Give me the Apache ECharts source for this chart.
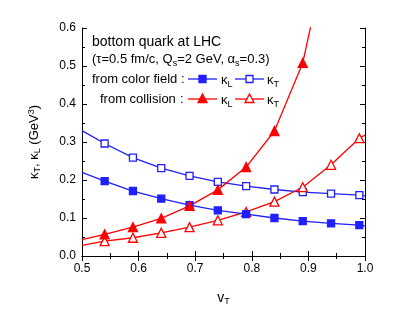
<!DOCTYPE html>
<html><head><meta charset="utf-8">
<script src="https://cdn.jsdelivr.net/npm/echarts@6/dist/echarts.min.js"></script>
<style>html,body{margin:0;padding:0;background:#fff}#c{width:415px;height:318px}</style>
</head><body><div id="c"></div>
<script>
const vT = [0.5, 0.54, 0.59, 0.64, 0.69, 0.74, 0.79, 0.84, 0.89, 0.94, 0.99, 1.0];
const fieldKT = [0.330, 0.296, 0.259, 0.231, 0.211, 0.195, 0.184, 0.175, 0.168, 0.164, 0.160, 0.158];
const fieldKL = [0.220, 0.197, 0.171, 0.151, 0.134, 0.120, 0.110, 0.100, 0.092, 0.086, 0.081, 0.079];
const collKL  = [0.043, 0.057, 0.076, 0.099, 0.132, 0.174, 0.234, 0.329, 0.508, 0.850, null, null];
const collKT  = [0.028, 0.039, 0.048, 0.061, 0.076, 0.094, 0.116, 0.143, 0.181, 0.240, 0.310, 0.318];
const xTicks = ['0.5','0.6','0.7','0.8','0.9','1.0'];
const yTicks = ['0.0','0.1','0.2','0.3','0.4','0.5','0.6'];

const BLUE = '#1f1fff', RED = '#ff0000';
const FONT = 'Liberation Sans, Arial, sans-serif';
function build(vals, markerIdx) {
  const out = [];
  for (let i = 0; i < vT.length; i++) {
    if (vals[i] == null) continue;
    const item = { value: [vT[i], vals[i]] };
    if (i === 0 || i === vT.length - 1 || !markerIdx(i)) item.symbol = 'none';
    out.push(item);
  }
  return out;
}
const isMarker = i => i >= 1 && i <= 10;
function series(name, vals, color, symbol, filled, size) {
  return {
    name, type: 'line', data: build(vals, isMarker), smooth: false,
    symbol, symbolSize: size, showAllSymbol: true, clip: true,
    lineStyle: { color, width: 1.3 },
    itemStyle: { color: filled ? color : '#fff', borderColor: color, borderWidth: 1.3 },
    z: filled ? 3 : 2
  };
}
const sub = { fontSize: 9, verticalAlign: 'bottom', padding: [6, 0, 0, 0], fontFamily: FONT, color: '#000' };
const axisCommon = {
  axisLine: { show: true, lineStyle: { color: '#000', width: 1 } },
  axisTick: { show: true, inside: true, length: 5, lineStyle: { color: '#000' } },
  minorTick: { show: true, splitNumber: 2, length: 3, lineStyle: { color: '#000' } },
  splitLine: { show: false }
};
const chart = echarts.init(document.getElementById('c'));
const option = {
  animation: false,
  backgroundColor: '#fff',
  grid: { left: 82, right: 50, top: 28, bottom: 62, containLabel: false },
  xAxis: [
    Object.assign({ type: 'value', min: 0.5, max: 1.0, interval: 0.1, position: 'bottom',
      axisLabel: { color: '#000', fontSize: 12, fontFamily: FONT, margin: 7,
        formatter: v => xTicks[Math.round((v - 0.5) * 10)] },
      name: 'v{s|T}', nameLocation: 'middle', nameGap: 35,
      nameTextStyle: { fontSize: 14, fontFamily: FONT, color: '#000', rich: { s: sub } } }, axisCommon),
    Object.assign({ type: 'value', min: 0.5, max: 1.0, interval: 0.1, position: 'top',
      axisLabel: { show: false } }, axisCommon)
  ],
  yAxis: [
    Object.assign({ type: 'value', min: 0, max: 0.6, interval: 0.1, position: 'left',
      axisLabel: { color: '#000', fontSize: 12, fontFamily: FONT, margin: 6,
        formatter: v => yTicks[Math.round(v * 10)] },
      name: 'κ{s|T}, κ{s|L} (GeV{p|3})', nameLocation: 'middle', nameGap: 40, nameRotate: 90,
      nameTextStyle: { fontSize: 13, fontFamily: FONT, color: '#000',
        rich: { s: sub, p: { fontSize: 9, verticalAlign: 'top', padding: [0, 0, 6, 0], fontFamily: FONT, color: '#000' } } } }, axisCommon),
    Object.assign({ type: 'value', min: 0, max: 0.6, interval: 0.1, position: 'right',
      axisLabel: { show: false } }, axisCommon)
  ],
  series: [
    series('fieldKT', fieldKT, BLUE, 'rect', false, 7),
    series('fieldKL', fieldKL, BLUE, 'rect', true, 7),
    series('collKT', collKT, RED, 'triangle', false, 9),
    series('collKL', collKL, RED, 'triangle', true, 9)
  ],
  graphic: (function () {
    const g = [];
    const txt = (x, y, text, size, rich) => g.push({ type: 'text', x, y, style: {
      text, fill: '#000', font: size + 'px ' + FONT, verticalAlign: 'middle', rich: rich || {} } });
    const richSub = { s: { fontSize: 9, fontFamily: FONT, fill: '#000', verticalAlign: 'bottom', padding: [9, 0, 0, 0] } };
    txt(92, 42, 'bottom quark at LHC', 14);
    txt(92, 59, '(τ=0.5 fm/c, Q{s|s}=2 GeV, α{s|s}=0.3)', 13, richSub);
    txt(92, 79, 'from color field', 13);
    txt(181, 79, ':', 13);
    txt(100, 99, 'from collision', 13);
    txt(180, 99, ':', 13);
    const sample = (x1, y, color, symbol, filled) => {
      g.push({ type: 'line', shape: { x1, y1: y, x2: x1 + 29, y2: y }, style: { stroke: color, lineWidth: 1.3 } });
      const cx = x1 + 14.5;
      if (symbol === 'rect') {
        g.push({ type: 'rect', shape: { x: cx - 3.5, y: y - 3.5, width: 7, height: 7 },
          style: { fill: filled ? color : '#fff', stroke: color, lineWidth: 1.3 } });
      } else {
        g.push({ type: 'polygon', shape: { points: [[cx, y - 5], [cx + 4.5, y + 3.5], [cx - 4.5, y + 3.5]] },
          style: { fill: filled ? color : '#fff', stroke: color, lineWidth: 1.3 } });
      }
    };
    sample(188, 79, BLUE, 'rect', true);  txt(221, 80, 'κ{s|L}', 13, richSub);
    sample(235, 79, BLUE, 'rect', false); txt(267, 80, 'κ{s|T}', 13, richSub);
    sample(188, 99, RED, 'tri', true);    txt(221, 100, 'κ{s|L}', 13, richSub);
    sample(235, 99, RED, 'tri', false);   txt(267, 100, 'κ{s|T}', 13, richSub);
    return g;
  })()
};
chart.setOption(option);
</script></body></html>
